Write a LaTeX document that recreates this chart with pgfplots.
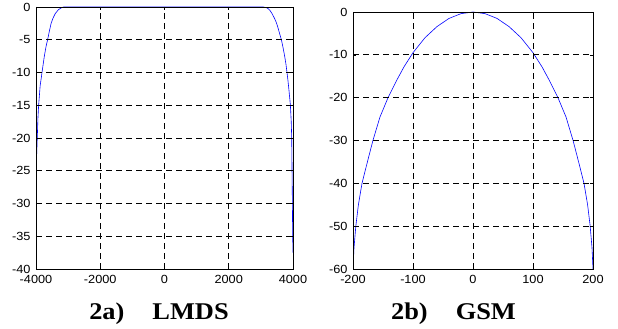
\documentclass[border=0pt]{standalone}
\usepackage{pgfplots}
\pgfplotsset{compat=1.18}
\usepackage{fontspec}
\setmainfont{Liberation Sans}
\newfontfamily\tickfont[FakeStretch=1.08]{Liberation Sans}
\newfontfamily\titlefont[FakeStretch=1.1]{Liberation Serif}

\pgfplotsset{mystyle/.style={
  scale only axis, axis on top,
  axis line style={line width=0.9pt, black},
  grid=major,
  major grid style={dash pattern=on 6pt off 4pt, line width=0.7pt, black},
  tick align=inside, major tick length=3pt,
  tick style={black, line width=0.6pt},
  ticklabel style={font=\tickfont\fontsize{11.8}{13}\selectfont, text=black},
  yticklabel style={xshift=-2pt},
  xticklabel style={yshift=-2.5pt},
}}

\begin{document}
\begin{tikzpicture}
\path[use as bounding box] (0pt,0pt) rectangle (618pt,329pt);

\begin{axis}[mystyle, at={(36pt,60pt)}, anchor=south west,
  width=257pt, height=262pt,
  xmin=-4000, xmax=4000, ymin=-40, ymax=0,
  xtick={-4000,-2000,0,2000,4000},
  xticklabels={-4000,-2000,0,2000,4000},
  ytick={-40,-35,-30,-25,-20,-15,-10,-5,0},
  yticklabels={-40,-35,-30,-25,-20,-15,-10,-5,0}]
\addplot[blue, line width=0.6pt] coordinates {
 (-4000,-25.3) (-3990,-24) (-3975,-22) (-3960,-20) (-3940,-17) (-3918,-15)
 (-3870,-12) (-3813,-10) (-3740,-7.5) (-3690,-6.1) (-3639,-5) (-3580,-3.6)
 (-3530,-2.5) (-3470,-1.7) (-3400,-1) (-3300,-0.4) (-3200,-0.1) (-3140,0)
 (0,0) (3080,0) (3200,-0.15) (3280,-0.5) (3346,-1) (3400,-1.5) (3450,-2)
 (3490,-2.5) (3523,-3) (3580,-4) (3639,-5) (3690,-6.2) (3740,-7.5)
 (3780,-8.7) (3813,-10) (3845,-11.3) (3870,-12.5) (3900,-14) (3919,-15)
 (3945,-17.5) (3960,-20) (3970,-25) (3981,-30) (3990,-35) (4000,-37.5)
};
\end{axis}

\begin{axis}[mystyle, at={(353pt,60pt)}, anchor=south west,
  width=240pt, height=257pt,
  xmin=-200, xmax=200, ymin=-60, ymax=0,
  xtick={-200,-100,0,100,200},
  xticklabels={-200,-100,0,100,200},
  ytick={-60,-50,-40,-30,-20,-10,0},
  yticklabels={-60,-50,-40,-30,-20,-10,0}]
\addplot[blue, line width=0.6pt] coordinates {
 (-200,-60) (-198.3,-55) (-195.3,-50) (-191,-45) (-185,-40) (-176,-35)
 (-166.8,-30) (-155,-24.5) (-141.6,-20) (-127,-15.9) (-115,-12.8)
 (-100,-9.5) (-80,-6.0) (-60,-3.4) (-40,-1.5) (-20,-0.38) (0,0)
 (20,-0.38) (40,-1.5) (60,-3.4) (80,-6.0) (100,-9.5) (115,-12.8)
 (127,-15.9) (141.6,-20) (155,-24.5) (166.8,-30) (176,-35) (185,-40)
 (191,-45) (195.3,-50) (198.3,-55) (200,-60)
};
\end{axis}

\node[anchor=base, font=\titlefont\bfseries\fontsize{24}{28}\selectfont, inner sep=0pt]
  at (159pt,9.5pt) {2a)\hspace{28pt}LMDS};
\node[anchor=base, font=\titlefont\bfseries\fontsize{24}{28}\selectfont, inner sep=0pt]
  at (453.5pt,9.5pt) {2b)\hspace{28pt}GSM};
\end{tikzpicture}
\end{document}
